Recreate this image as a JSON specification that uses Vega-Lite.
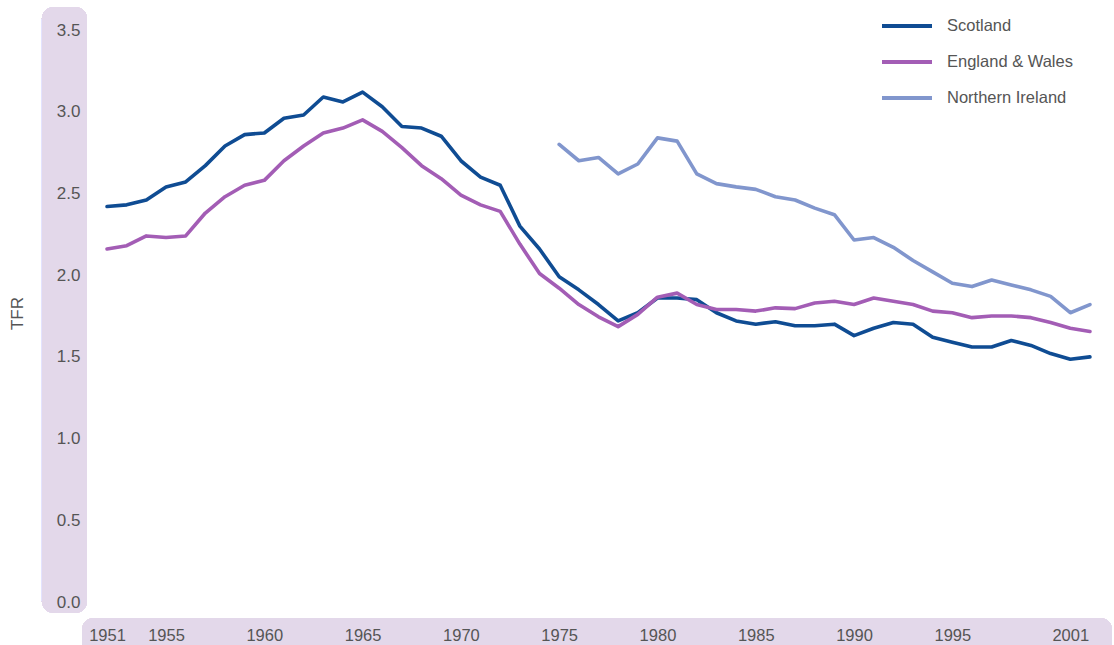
{
  "$schema": "https://vega.github.io/schema/vega-lite/v6.json",
  "width": 1024,
  "height": 572,
  "autosize": {"type": "none"},
  "padding": {"left": 86, "top": 30, "right": 4, "bottom": 43},
  "background": "white",
  "config": {
    "view": {"stroke": null},
    "font": "Liberation Sans",
    "axis": {"labelFont": "Liberation Sans", "titleFont": "Liberation Sans"},
    "legend": {"labelFont": "Liberation Sans"}
  },
  "datasets": {
    "tfr": [
      {"year": 1952, "country": "Scotland", "tfr": 2.42},
      {"year": 1953, "country": "Scotland", "tfr": 2.43},
      {"year": 1954, "country": "Scotland", "tfr": 2.46},
      {"year": 1955, "country": "Scotland", "tfr": 2.54},
      {"year": 1956, "country": "Scotland", "tfr": 2.57},
      {"year": 1957, "country": "Scotland", "tfr": 2.67},
      {"year": 1958, "country": "Scotland", "tfr": 2.79},
      {"year": 1959, "country": "Scotland", "tfr": 2.86},
      {"year": 1960, "country": "Scotland", "tfr": 2.87},
      {"year": 1961, "country": "Scotland", "tfr": 2.96},
      {"year": 1962, "country": "Scotland", "tfr": 2.98},
      {"year": 1963, "country": "Scotland", "tfr": 3.09},
      {"year": 1964, "country": "Scotland", "tfr": 3.06},
      {"year": 1965, "country": "Scotland", "tfr": 3.12},
      {"year": 1966, "country": "Scotland", "tfr": 3.03},
      {"year": 1967, "country": "Scotland", "tfr": 2.91},
      {"year": 1968, "country": "Scotland", "tfr": 2.9},
      {"year": 1969, "country": "Scotland", "tfr": 2.85},
      {"year": 1970, "country": "Scotland", "tfr": 2.7},
      {"year": 1971, "country": "Scotland", "tfr": 2.6},
      {"year": 1972, "country": "Scotland", "tfr": 2.55},
      {"year": 1973, "country": "Scotland", "tfr": 2.3},
      {"year": 1974, "country": "Scotland", "tfr": 2.16},
      {"year": 1975, "country": "Scotland", "tfr": 1.99},
      {"year": 1976, "country": "Scotland", "tfr": 1.91},
      {"year": 1977, "country": "Scotland", "tfr": 1.82},
      {"year": 1978, "country": "Scotland", "tfr": 1.72},
      {"year": 1979, "country": "Scotland", "tfr": 1.77},
      {"year": 1980, "country": "Scotland", "tfr": 1.86},
      {"year": 1981, "country": "Scotland", "tfr": 1.86},
      {"year": 1982, "country": "Scotland", "tfr": 1.85},
      {"year": 1983, "country": "Scotland", "tfr": 1.77},
      {"year": 1984, "country": "Scotland", "tfr": 1.72},
      {"year": 1985, "country": "Scotland", "tfr": 1.7},
      {"year": 1986, "country": "Scotland", "tfr": 1.715},
      {"year": 1987, "country": "Scotland", "tfr": 1.69},
      {"year": 1988, "country": "Scotland", "tfr": 1.69},
      {"year": 1989, "country": "Scotland", "tfr": 1.7},
      {"year": 1990, "country": "Scotland", "tfr": 1.63},
      {"year": 1991, "country": "Scotland", "tfr": 1.675},
      {"year": 1992, "country": "Scotland", "tfr": 1.71},
      {"year": 1993, "country": "Scotland", "tfr": 1.7},
      {"year": 1994, "country": "Scotland", "tfr": 1.62},
      {"year": 1995, "country": "Scotland", "tfr": 1.59},
      {"year": 1996, "country": "Scotland", "tfr": 1.56},
      {"year": 1997, "country": "Scotland", "tfr": 1.56},
      {"year": 1998, "country": "Scotland", "tfr": 1.6},
      {"year": 1999, "country": "Scotland", "tfr": 1.57},
      {"year": 2000, "country": "Scotland", "tfr": 1.52},
      {"year": 2001, "country": "Scotland", "tfr": 1.485},
      {"year": 2002, "country": "Scotland", "tfr": 1.5},
      {"year": 1952, "country": "England & Wales", "tfr": 2.16},
      {"year": 1953, "country": "England & Wales", "tfr": 2.18},
      {"year": 1954, "country": "England & Wales", "tfr": 2.24},
      {"year": 1955, "country": "England & Wales", "tfr": 2.23},
      {"year": 1956, "country": "England & Wales", "tfr": 2.24},
      {"year": 1957, "country": "England & Wales", "tfr": 2.38},
      {"year": 1958, "country": "England & Wales", "tfr": 2.48},
      {"year": 1959, "country": "England & Wales", "tfr": 2.55},
      {"year": 1960, "country": "England & Wales", "tfr": 2.58},
      {"year": 1961, "country": "England & Wales", "tfr": 2.7},
      {"year": 1962, "country": "England & Wales", "tfr": 2.79},
      {"year": 1963, "country": "England & Wales", "tfr": 2.87},
      {"year": 1964, "country": "England & Wales", "tfr": 2.9},
      {"year": 1965, "country": "England & Wales", "tfr": 2.95},
      {"year": 1966, "country": "England & Wales", "tfr": 2.88},
      {"year": 1967, "country": "England & Wales", "tfr": 2.78},
      {"year": 1968, "country": "England & Wales", "tfr": 2.67},
      {"year": 1969, "country": "England & Wales", "tfr": 2.59},
      {"year": 1970, "country": "England & Wales", "tfr": 2.49},
      {"year": 1971, "country": "England & Wales", "tfr": 2.43},
      {"year": 1972, "country": "England & Wales", "tfr": 2.39},
      {"year": 1973, "country": "England & Wales", "tfr": 2.19},
      {"year": 1974, "country": "England & Wales", "tfr": 2.01},
      {"year": 1975, "country": "England & Wales", "tfr": 1.92},
      {"year": 1976, "country": "England & Wales", "tfr": 1.82},
      {"year": 1977, "country": "England & Wales", "tfr": 1.745},
      {"year": 1978, "country": "England & Wales", "tfr": 1.685},
      {"year": 1979, "country": "England & Wales", "tfr": 1.76},
      {"year": 1980, "country": "England & Wales", "tfr": 1.865},
      {"year": 1981, "country": "England & Wales", "tfr": 1.89},
      {"year": 1982, "country": "England & Wales", "tfr": 1.82},
      {"year": 1983, "country": "England & Wales", "tfr": 1.79},
      {"year": 1984, "country": "England & Wales", "tfr": 1.79},
      {"year": 1985, "country": "England & Wales", "tfr": 1.78},
      {"year": 1986, "country": "England & Wales", "tfr": 1.8},
      {"year": 1987, "country": "England & Wales", "tfr": 1.795},
      {"year": 1988, "country": "England & Wales", "tfr": 1.83},
      {"year": 1989, "country": "England & Wales", "tfr": 1.84},
      {"year": 1990, "country": "England & Wales", "tfr": 1.82},
      {"year": 1991, "country": "England & Wales", "tfr": 1.86},
      {"year": 1992, "country": "England & Wales", "tfr": 1.84},
      {"year": 1993, "country": "England & Wales", "tfr": 1.82},
      {"year": 1994, "country": "England & Wales", "tfr": 1.78},
      {"year": 1995, "country": "England & Wales", "tfr": 1.77},
      {"year": 1996, "country": "England & Wales", "tfr": 1.74},
      {"year": 1997, "country": "England & Wales", "tfr": 1.75},
      {"year": 1998, "country": "England & Wales", "tfr": 1.75},
      {"year": 1999, "country": "England & Wales", "tfr": 1.74},
      {"year": 2000, "country": "England & Wales", "tfr": 1.71},
      {"year": 2001, "country": "England & Wales", "tfr": 1.675},
      {"year": 2002, "country": "England & Wales", "tfr": 1.655},
      {"year": 1975, "country": "Northern Ireland", "tfr": 2.8},
      {"year": 1976, "country": "Northern Ireland", "tfr": 2.7},
      {"year": 1977, "country": "Northern Ireland", "tfr": 2.72},
      {"year": 1978, "country": "Northern Ireland", "tfr": 2.62},
      {"year": 1979, "country": "Northern Ireland", "tfr": 2.68},
      {"year": 1980, "country": "Northern Ireland", "tfr": 2.84},
      {"year": 1981, "country": "Northern Ireland", "tfr": 2.82},
      {"year": 1982, "country": "Northern Ireland", "tfr": 2.62},
      {"year": 1983, "country": "Northern Ireland", "tfr": 2.56},
      {"year": 1984, "country": "Northern Ireland", "tfr": 2.54},
      {"year": 1985, "country": "Northern Ireland", "tfr": 2.525},
      {"year": 1986, "country": "Northern Ireland", "tfr": 2.48},
      {"year": 1987, "country": "Northern Ireland", "tfr": 2.46},
      {"year": 1988, "country": "Northern Ireland", "tfr": 2.41},
      {"year": 1989, "country": "Northern Ireland", "tfr": 2.37},
      {"year": 1990, "country": "Northern Ireland", "tfr": 2.215},
      {"year": 1991, "country": "Northern Ireland", "tfr": 2.23},
      {"year": 1992, "country": "Northern Ireland", "tfr": 2.17},
      {"year": 1993, "country": "Northern Ireland", "tfr": 2.09},
      {"year": 1994, "country": "Northern Ireland", "tfr": 2.02},
      {"year": 1995, "country": "Northern Ireland", "tfr": 1.95},
      {"year": 1996, "country": "Northern Ireland", "tfr": 1.93},
      {"year": 1997, "country": "Northern Ireland", "tfr": 1.97},
      {"year": 1998, "country": "Northern Ireland", "tfr": 1.94},
      {"year": 1999, "country": "Northern Ireland", "tfr": 1.91},
      {"year": 2000, "country": "Northern Ireland", "tfr": 1.87},
      {"year": 2001, "country": "Northern Ireland", "tfr": 1.77},
      {"year": 2002, "country": "Northern Ireland", "tfr": 1.82}
    ]
  },
  "data": {"name": "tfr"},
  "layer": [
    {
      "mark": {"type": "rect", "color": "#e3d8ea", "cornerRadius": 12},
      "encoding": {
        "x": {"datum": 1948.69, "type": "quantitative"},
        "x2": {"datum": 1950.98},
        "y": {"datum": 3.641, "type": "quantitative"},
        "y2": {"datum": -0.067}
      }
    },
    {
      "mark": {"type": "rect", "color": "#e3d8ea", "cornerRadius": 12},
      "encoding": {
        "x": {"datum": 1950.73, "type": "quantitative"},
        "x2": {"datum": 2003.12},
        "y": {"datum": -0.098, "type": "quantitative"},
        "y2": {"datum": -0.4}
      }
    },
    {
      "mark": {"type": "line", "strokeWidth": 3.6, "strokeJoin": "round", "strokeCap": "round"},
      "encoding": {
        "x": {
          "field": "year",
          "type": "quantitative",
          "scale": {"domain": [1950.93, 2003.02], "nice": false, "zero": false},
          "axis": {
            "values": [1952, 1955, 1960, 1965, 1970, 1975, 1980, 1985, 1990, 1995, 2001],
            "format": "d",
            "labelExpr": "datum.value == 1952 ? '1951' : datum.label",
            "title": null,
            "domain": false,
            "ticks": false,
            "tickSize": 0,
            "grid": false,
            "labelPadding": 25,
            "labelFontSize": 16.5,
            "labelColor": "#555555",
            "zindex": 1
          }
        },
        "y": {
          "field": "tfr",
          "type": "quantitative",
          "scale": {"domain": [0, 3.5], "nice": false, "zero": false},
          "axis": {
            "values": [0, 0.5, 1, 1.5, 2, 2.5, 3, 3.5],
            "format": ".1f",
            "title": "TFR",
            "titleFontSize": 17,
            "titleFontWeight": "normal",
            "titleColor": "#555555",
            "titleX": -60,
            "titleY": 283,
            "titleAngle": -90,
            "domain": false,
            "ticks": false,
            "tickSize": 0,
            "grid": false,
            "labelPadding": 6,
            "labelFontSize": 17,
            "labelColor": "#555555",
            "zindex": 1
          }
        },
        "color": {
          "field": "country",
          "type": "nominal",
          "scale": {
            "domain": ["Scotland", "England & Wales", "Northern Ireland"],
            "range": ["#0f4c93", "#a35db5", "#8196cd"]
          },
          "legend": {
            "title": null,
            "orient": "none",
            "legendX": 794,
            "legendY": -31,
            "symbolType": "stroke",
            "symbolSize": 2500,
            "symbolStrokeWidth": 4,
            "labelFontSize": 16.5,
            "labelColor": "#555555",
            "labelOffset": 13,
            "rowPadding": -11.5
          }
        }
      }
    }
  ]
}
